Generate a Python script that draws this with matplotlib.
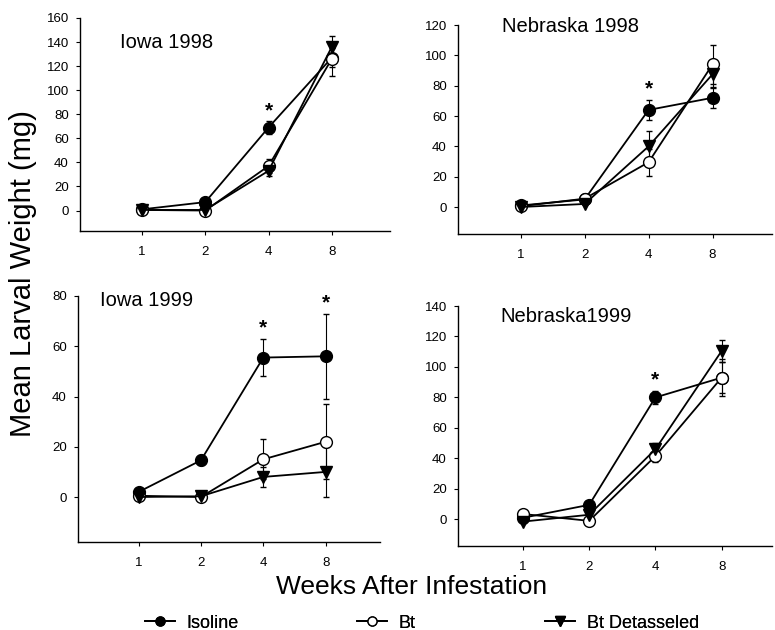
"""
Larval weight over time, four site/year panels.
"""
import matplotlib
matplotlib.use("Agg")
import matplotlib.pyplot as plt
from matplotlib.lines import Line2D

W, H = 775, 630

weeks = ["1", "2", "4", "8"]
series_names = ["Isoline", "Bt", "Bt Detasseled"]

# Iowa 1998
iowa98_isoline = [1, 7, 69, 127]
iowa98_isoline_se = [0, 1, 5, 8]
iowa98_bt = [0.5, 0, 37, 126]
iowa98_bt_se = [0, 0, 6, 14]
iowa98_btdet = [0.5, 0.5, 33, 136]
iowa98_btdet_se = [0, 0, 4, 9]

# Nebraska 1998
nebr98_isoline = [1, 5, 64, 72]
nebr98_isoline_se = [0, 0, 6.5, 7]
nebr98_bt = [0.5, 5.5, 29.5, 94]
nebr98_bt_se = [0, 0, 9, 13]
nebr98_btdet = [0, 2, 40, 87.5]
nebr98_btdet_se = [0, 0, 10, 9]

# Iowa 1999
iowa99_isoline = [2, 14.6, 55.5, 56]
iowa99_isoline_se = [0.5, 2, 7.5, 17]
iowa99_bt = [0.5, 0, 15, 22]
iowa99_bt_se = [0, 0, 8, 15]
iowa99_btdet = [0, 0.3, 8, 10]
iowa99_btdet_se = [0, 0, 4, 10]

# Nebraska 1999
nebr99_isoline = [1, 9.5, 80, 93]
nebr99_isoline_se = [0.5, 1, 4.5, 10]
nebr99_bt = [3.5, -1, 41.5, 93]
nebr99_bt_se = [0, 0, 4, 12]
nebr99_btdet = [-1.5, 3, 46, 110.5]
nebr99_btdet_se = [0, 0, 4, 7]

# weeks (index) where isoline differs significantly
iowa98_stars = [2]
nebr98_stars = [2]
iowa99_stars = [2, 3]
nebr99_stars = [2]

plt.rcParams["font.family"] = ["Liberation Sans", "DejaVu Sans"]

MARKERS = [
    dict(marker="o", markerfacecolor="black", markersize=8.5),
    dict(marker="o", markerfacecolor="white", markersize=8.5),
    dict(marker="v", markerfacecolor="black", markersize=9),
]


def _box(left, right, top, bottom):
    """pixel box -> figure fractions"""
    return [left / W, (H - bottom) / H, (right - left) / W, (bottom - top) / H]


def draw_panel(fig, box, xlim, ylim, yticks, title, title_xy, means, errs, stars):
    ax = fig.add_axes(box)
    x = range(len(weeks))
    for m, e, style in zip(means, errs, MARKERS):
        ax.errorbar(x, m, yerr=e, color="black", lw=1.3, elinewidth=0.8,
                    capsize=2, capthick=0.8, markeredgecolor="black",
                    markeredgewidth=1.0, **style)
    for i in stars:
        top = means[0][i] + errs[0][i]
        ax.annotate("*", (i, top), xytext=(0, 1), textcoords="offset points",
                    ha="center", va="bottom", fontsize=15, fontweight="bold")
    ax.set_xlim(*xlim)
    ax.set_ylim(*ylim)
    ax.set_yticks(yticks)
    ax.set_xticks(list(x))
    ax.set_xticklabels(weeks)
    ax.spines["top"].set_visible(False)
    ax.spines["right"].set_visible(False)
    ax.spines["left"].set_linewidth(1.0)
    ax.spines["bottom"].set_linewidth(1.0)
    ax.tick_params(axis="y", length=3, width=0.8, pad=5, labelsize=9.5)
    ax.tick_params(axis="x", length=3, width=0.8, pad=8, labelsize=9.5)
    fig.text(title_xy[0] / W, 1 - title_xy[1] / H, title, fontsize=14.5,
             ha="left", va="center")
    return ax


fig = plt.figure(figsize=(W / 100, H / 100), dpi=100)

draw_panel(fig, _box(80, 390, 18, 231), (-0.98, 3.92), (-17, 160),
           range(0, 161, 20), "Iowa 1998", (120, 42),
           [iowa98_isoline, iowa98_bt, iowa98_btdet],
           [iowa98_isoline_se, iowa98_bt_se, iowa98_btdet_se], iowa98_stars)

draw_panel(fig, _box(458, 772, 25, 234), (-0.98, 3.93), (-17.8, 120),
           range(0, 121, 20), "Nebraska 1998", (502, 27),
           [nebr98_isoline, nebr98_bt, nebr98_btdet],
           [nebr98_isoline_se, nebr98_bt_se, nebr98_btdet_se], nebr98_stars)

draw_panel(fig, _box(78, 380, 296, 542), (-0.97, 3.87), (-17.9, 80),
           range(0, 81, 20), "Iowa 1999", (100, 300),
           [iowa99_isoline, iowa99_bt, iowa99_btdet],
           [iowa99_isoline_se, iowa99_bt_se, iowa99_btdet_se], iowa99_stars)

draw_panel(fig, _box(458, 772, 306, 546), (-0.98, 3.76), (-17.5, 140),
           range(0, 141, 20), "Nebraska1999", (500, 317),
           [nebr99_isoline, nebr99_bt, nebr99_btdet],
           [nebr99_isoline_se, nebr99_bt_se, nebr99_btdet_se], nebr99_stars)

# shared axis titles
fig.text(23 / W, 1 - 274 / H, "Mean Larval Weight (mg)", rotation=90,
         ha="center", va="center", fontsize=21)
fig.text(412 / W, 1 - 587 / H, "Weeks After Infestation", ha="center",
         va="center", fontsize=19)

# legend: one entry per slot, spread along the bottom
legend_x = [145, 357, 545]
for name, style, lx in zip(series_names, MARKERS, legend_x):
    small = dict(style, markersize=style["markersize"] - 2)
    h = Line2D([], [], color="black", lw=1.3, markeredgecolor="black", **small)
    leg = fig.legend([h], [name], loc="center left",
                     bbox_to_anchor=(lx / W, 1 - 623 / H), frameon=False,
                     borderpad=0, borderaxespad=0, handlelength=1.66,
                     handletextpad=0.65, fontsize=13)
    fig.add_artist(leg)

fig.savefig("out.png", dpi=100)
